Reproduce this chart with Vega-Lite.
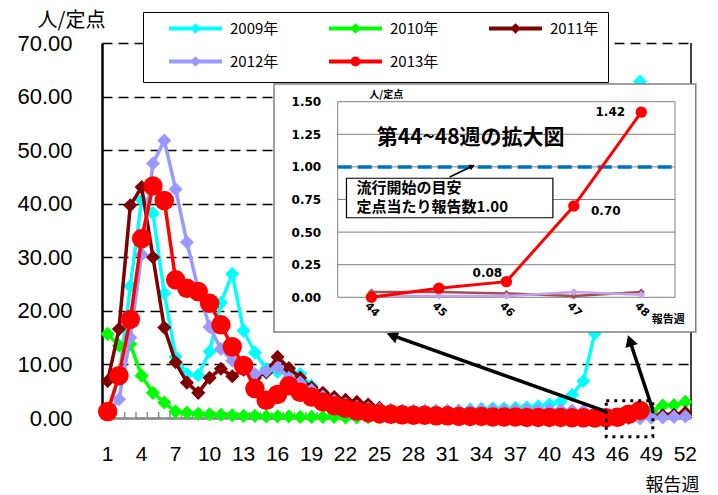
{
"$schema":"https://vega.github.io/schema/vega-lite/v6.json",
"width":589,"height":375,
"autosize":{"type":"none"},
"padding":{"left":102,"top":43,"right":27,"bottom":77},
"background":"#ffffff",
"config":{"view":{"stroke":null},"font":"Liberation Sans","axis":{"labelOverlap":false,"labelBound":false}},
"datasets":{
"y2009":[{"week":1,"value":1.3},{"week":2,"value":7.5},{"week":3,"value":24.6},{"week":4,"value":40.7},{"week":5,"value":38.2},{"week":6,"value":23.3},{"week":7,"value":11.4},{"week":8,"value":8.2},{"week":9,"value":8.0},{"week":10,"value":12.4},{"week":11,"value":21.5},{"week":12,"value":26.9},{"week":13,"value":16.3},{"week":14,"value":12.2},{"week":15,"value":9.2},{"week":16,"value":8.6},{"week":17,"value":9.0},{"week":18,"value":8.2},{"week":19,"value":6.0},{"week":20,"value":4.0},{"week":21,"value":2.8},{"week":22,"value":2.0},{"week":23,"value":1.5},{"week":24,"value":1.2},{"week":25,"value":1.0},{"week":26,"value":0.9},{"week":27,"value":0.9},{"week":28,"value":1.0},{"week":29,"value":1.1},{"week":30,"value":1.2},{"week":31,"value":1.3},{"week":32,"value":1.4},{"week":33,"value":1.6},{"week":34,"value":1.7},{"week":35,"value":1.8},{"week":36,"value":1.8},{"week":37,"value":1.9},{"week":38,"value":2.0},{"week":39,"value":2.2},{"week":40,"value":2.5},{"week":41,"value":3.1},{"week":42,"value":4.3},{"week":43,"value":6.9},{"week":44,"value":15.8},{"week":45,"value":27},{"week":46,"value":40},{"week":47,"value":52},{"week":48,"value":62.8},{"week":49,"value":55},{"week":50,"value":45},{"week":51,"value":33},{"week":52,"value":24}],
"y2010":[{"week":1,"value":15.7},{"week":2,"value":13.5},{"week":3,"value":13.8},{"week":4,"value":7.9},{"week":5,"value":4.7},{"week":6,"value":2.9},{"week":7,"value":1.2},{"week":8,"value":1.0},{"week":9,"value":0.8},{"week":10,"value":0.7},{"week":11,"value":0.6},{"week":12,"value":0.5},{"week":13,"value":0.4},{"week":14,"value":0.4},{"week":15,"value":0.3},{"week":16,"value":0.3},{"week":17,"value":0.3},{"week":18,"value":0.2},{"week":19,"value":0.2},{"week":20,"value":0.2},{"week":21,"value":0.2},{"week":22,"value":0.1},{"week":23,"value":0.1},{"week":24,"value":0.1},{"week":25,"value":0.1},{"week":26,"value":0.1},{"week":27,"value":0.1},{"week":28,"value":0.1},{"week":29,"value":0.1},{"week":30,"value":0.1},{"week":31,"value":0.1},{"week":32,"value":0.1},{"week":33,"value":0.1},{"week":34,"value":0.1},{"week":35,"value":0.1},{"week":36,"value":0.1},{"week":37,"value":0.1},{"week":38,"value":0.1},{"week":39,"value":0.1},{"week":40,"value":0.1},{"week":41,"value":0.1},{"week":42,"value":0.2},{"week":43,"value":0.2},{"week":44,"value":0.2},{"week":45,"value":0.3},{"week":46,"value":0.4},{"week":47,"value":0.6},{"week":48,"value":0.8},{"week":49,"value":1.3},{"week":50,"value":2.3},{"week":51,"value":2.4},{"week":52,"value":3.0}],
"y2011":[{"week":1,"value":6.9},{"week":2,"value":16.6},{"week":3,"value":39.7},{"week":4,"value":43.1},{"week":5,"value":30.0},{"week":6,"value":16.9},{"week":7,"value":10.4},{"week":8,"value":6.6},{"week":9,"value":4.7},{"week":10,"value":7.5},{"week":11,"value":9.2},{"week":12,"value":7.8},{"week":13,"value":9.0},{"week":14,"value":7.5},{"week":15,"value":8.5},{"week":16,"value":11.4},{"week":17,"value":9.3},{"week":18,"value":7.5},{"week":19,"value":5.7},{"week":20,"value":4.7},{"week":21,"value":3.9},{"week":22,"value":3.4},{"week":23,"value":3.0},{"week":24,"value":2.5},{"week":25,"value":1.9},{"week":26,"value":1.5},{"week":27,"value":1.2},{"week":28,"value":0.9},{"week":29,"value":0.7},{"week":30,"value":0.5},{"week":31,"value":0.4},{"week":32,"value":0.3},{"week":33,"value":0.2},{"week":34,"value":0.2},{"week":35,"value":0.1},{"week":36,"value":0.1},{"week":37,"value":0.1},{"week":38,"value":0.1},{"week":39,"value":0.05},{"week":40,"value":0.05},{"week":41,"value":0.05},{"week":42,"value":0.05},{"week":43,"value":0.05},{"week":44,"value":0.04},{"week":45,"value":0.04},{"week":46,"value":0.03},{"week":47,"value":0.01},{"week":48,"value":0.04},{"week":49,"value":0.2},{"week":50,"value":0.5},{"week":51,"value":0.6},{"week":52,"value":1.0}],
"y2012":[{"week":1,"value":1.0},{"week":2,"value":3.5},{"week":3,"value":15.0},{"week":4,"value":30.5},{"week":5,"value":47.5},{"week":6,"value":51.8},{"week":7,"value":42.7},{"week":8,"value":32.8},{"week":9,"value":24.0},{"week":10,"value":17.0},{"week":11,"value":12.9},{"week":12,"value":10.7},{"week":13,"value":9.5},{"week":14,"value":8.2},{"week":15,"value":8.8},{"week":16,"value":9.4},{"week":17,"value":7.5},{"week":18,"value":6.6},{"week":19,"value":5.2},{"week":20,"value":4.0},{"week":21,"value":3.2},{"week":22,"value":2.6},{"week":23,"value":2.1},{"week":24,"value":1.8},{"week":25,"value":1.6},{"week":26,"value":1.5},{"week":27,"value":1.4},{"week":28,"value":1.4},{"week":29,"value":1.4},{"week":30,"value":1.4},{"week":31,"value":1.4},{"week":32,"value":1.4},{"week":33,"value":1.4},{"week":34,"value":1.5},{"week":35,"value":1.5},{"week":36,"value":1.5},{"week":37,"value":1.5},{"week":38,"value":1.5},{"week":39,"value":1.5},{"week":40,"value":1.5},{"week":41,"value":1.5},{"week":42,"value":1.4},{"week":43,"value":1.3},{"week":44,"value":0.01},{"week":45,"value":0.01},{"week":46,"value":0.01},{"week":47,"value":0.04},{"week":48,"value":0.02},{"week":49,"value":0.1},{"week":50,"value":0.1},{"week":51,"value":0.2},{"week":52,"value":0.3}],
"y2013":[{"week":1,"value":1.2},{"week":2,"value":7.9},{"week":3,"value":18.4},{"week":4,"value":33.5},{"week":5,"value":43.3},{"week":6,"value":40.6},{"week":7,"value":25.8},{"week":8,"value":24.2},{"week":9,"value":23.6},{"week":10,"value":21.4},{"week":11,"value":17.4},{"week":12,"value":13.3},{"week":13,"value":9.8},{"week":14,"value":5.5},{"week":15,"value":3.3},{"week":16,"value":4.4},{"week":17,"value":6.0},{"week":18,"value":4.8},{"week":19,"value":3.9},{"week":20,"value":3.0},{"week":21,"value":2.3},{"week":22,"value":1.8},{"week":23,"value":1.3},{"week":24,"value":1.0},{"week":25,"value":0.8},{"week":26,"value":0.7},{"week":27,"value":0.6},{"week":28,"value":0.5},{"week":29,"value":0.5},{"week":30,"value":0.4},{"week":31,"value":0.4},{"week":32,"value":0.3},{"week":33,"value":0.3},{"week":34,"value":0.3},{"week":35,"value":0.2},{"week":36,"value":0.2},{"week":37,"value":0.2},{"week":38,"value":0.1},{"week":39,"value":0.1},{"week":40,"value":0.1},{"week":41,"value":0.1},{"week":42,"value":0.05},{"week":43,"value":0.03},{"week":44,"value":0.0},{"week":45,"value":0.07},{"week":46,"value":0.12,"label":"0.08"},{"week":47,"value":0.70,"label":"0.70"},{"week":48,"value":1.42,"label":"1.42"}]
},
"layer":[
{"layer":[
{"data":{"name":"y2009"},"mark":{"type":"line","strokeWidth":3.5},
 "encoding":{
  "x":{"field":"week","type":"quantitative","scale":{"domain":[0.5,52.5],"nice":false,"zero":false},
   "axis":{"values":[1,4,7,10,13,16,19,22,25,28,31,34,37,40,43,46,49,52],"ticks":false,"labels":false,"domainColor":"#8c8c8c","domainWidth":2.5,"grid":false,
    "title":"報告週","titleFont":"Noto Sans CJK JP","titleFontSize":18,"titleFontWeight":"normal","titleColor":"#000000","titleX":570,"titleY":67,"titleAlign":"center","titleBaseline":"middle"}},
  "y":{"field":"value","type":"quantitative","scale":{"domain":[0,70],"nice":false,"zero":false},
   "axis":{"values":[0,10,20,30,40,50,60,70],"format":".2f","ticks":false,"domainColor":"#000000","domainWidth":2.5,"grid":true,"gridColor":"#000000","gridDash":[10,6],"gridWidth":1.5,
    "labelFont":"Liberation Sans","labelFontSize":22,"labelColor":"#000000","labelPadding":30,
    "title":"人/定点","titleAngle":0,"titleX":-31,"titleY":-23,"titleFont":"Noto Sans CJK JP","titleFontSize":20,"titleFontWeight":"normal","titleAlign":"center","titleBaseline":"middle","titleColor":"#000000"}},
  "color":{"datum":"2009年","type":"nominal","scale":{"domain":["2009年","2010年","2011年","2012年","2013年"],"range":["#00FFFF","#00FF00","#800000","#9999FF","#FF0000"]},
   "legend":{"title":null,"orient":"none","legendX":41,"legendY":-31,"direction":"horizontal","columns":3,
    "symbolType":"M-5.3,0L5.3,0M0,-0.5L0.5,0L0,0.5L-0.5,0Z","symbolSize":100,"symbolStrokeWidth":4,"symbolOffset":36,"labelOffset":27,
    "labelFont":"Noto Sans CJK JP","labelFontSize":15,"labelColor":"#000000","strokeColor":"#000000","fillColor":"#ffffff","padding":9,"rowPadding":11,"columnPadding":33,
    "encode":{"symbols":{"update":{"fill":{"scale":"color","field":"value"},"stroke":{"scale":"color","field":"value"},
     "shape":{"signal":"datum.value === '2013年' ? 'M-5.3,0L5.3,0M0.6,0A0.6,0.6,0,1,1,-0.6,0A0.6,0.6,0,1,1,0.6,0Z' : 'M-5.3,0L5.3,0M0,-0.5L0.5,0L0,0.5L-0.5,0Z'"}}}}}}}},
{"data":{"name":"y2009"},"mark":{"type":"tick","orient":"vertical","size":6,"thickness":1.5,"color":"#8c8c8c","opacity":1,"xOffset":5.66,"yOffset":-3},
 "encoding":{"x":{"field":"week","type":"quantitative"},"y":{"datum":0.00001,"type":"quantitative"}}},
{"data":{"name":"y2009"},"transform":[{"filter":"(datum.week - 1) % 3 == 0"}],"mark":{"type":"text","font":"Liberation Sans","fontSize":21,"color":"#000000","baseline":"middle","align":"center","dy":37},
 "encoding":{"x":{"field":"week","type":"quantitative"},"y":{"datum":0.00001,"type":"quantitative"},"text":{"field":"week","type":"quantitative"}}},
{"data":{"values":[{}]},"mark":{"type":"rule","strokeWidth":1.5,"color":"#000000"},
 "encoding":{"x":{"datum":52.5,"type":"quantitative"},"y":{"datum":0.00001,"type":"quantitative"},"y2":{"datum":70}}},
{"data":{"name":"y2009"},"mark":{"type":"point","shape":"diamond","filled":true,"size":200,"opacity":1},
 "encoding":{"x":{"field":"week","type":"quantitative"},"y":{"field":"value","type":"quantitative"},"color":{"datum":"2009年","type":"nominal"}}},
{"data":{"name":"y2010"},"mark":{"type":"line","strokeWidth":3.5},
 "encoding":{"x":{"field":"week","type":"quantitative"},"y":{"field":"value","type":"quantitative"},"color":{"datum":"2010年","type":"nominal"}}},
{"data":{"name":"y2010"},"mark":{"type":"point","shape":"diamond","filled":true,"size":200,"opacity":1},
 "encoding":{"x":{"field":"week","type":"quantitative"},"y":{"field":"value","type":"quantitative"},"color":{"datum":"2010年","type":"nominal"}}},
{"data":{"name":"y2011"},"mark":{"type":"line","strokeWidth":3.5},
 "encoding":{"x":{"field":"week","type":"quantitative"},"y":{"field":"value","type":"quantitative"},"color":{"datum":"2011年","type":"nominal"}}},
{"data":{"name":"y2011"},"mark":{"type":"point","shape":"diamond","filled":true,"size":200,"opacity":1},
 "encoding":{"x":{"field":"week","type":"quantitative"},"y":{"field":"value","type":"quantitative"},"color":{"datum":"2011年","type":"nominal"}}},
{"data":{"name":"y2012"},"mark":{"type":"line","strokeWidth":3.5},
 "encoding":{"x":{"field":"week","type":"quantitative"},"y":{"field":"value","type":"quantitative"},"color":{"datum":"2012年","type":"nominal"}}},
{"data":{"name":"y2012"},"mark":{"type":"point","shape":"diamond","filled":true,"size":200,"opacity":1},
 "encoding":{"x":{"field":"week","type":"quantitative"},"y":{"field":"value","type":"quantitative"},"color":{"datum":"2012年","type":"nominal"}}},
{"data":{"name":"y2013"},"mark":{"type":"line","strokeWidth":3.5},
 "encoding":{"x":{"field":"week","type":"quantitative"},"y":{"field":"value","type":"quantitative"},"color":{"datum":"2013年","type":"nominal"}}},
{"data":{"name":"y2013"},"mark":{"type":"point","shape":"circle","filled":true,"size":380,"opacity":1},
 "encoding":{"x":{"field":"week","type":"quantitative"},"y":{"field":"value","type":"quantitative"},"color":{"datum":"2013年","type":"nominal"}}},
{"data":{"values":[{}]},"mark":{"type":"rect","fillOpacity":0,"stroke":"#000000","strokeWidth":3,"strokeDash":[3,5]},
 "encoding":{"x":{"datum":45.02,"type":"quantitative"},"x2":{"datum":49.13},"y":{"datum":3.23,"type":"quantitative"},"y2":{"datum":-3.49}}},
{"data":{"values":[{}]},"mark":{"type":"rule","strokeWidth":3.5,"color":"#000000"},
 "encoding":{"x":{"datum":45.02,"type":"quantitative"},"y":{"datum":1.18,"type":"quantitative"},"x2":{"datum":26.11},"y2":{"datum":15.44}}},
{"data":{"values":[{}]},"mark":{"type":"point","shape":"triangle-up","filled":true,"size":170,"color":"#000000","opacity":1,"angle":289.6},
 "encoding":{"x":{"datum":26.11,"type":"quantitative"},"y":{"datum":15.44,"type":"quantitative"}}},
{"data":{"values":[{}]},"mark":{"type":"rule","strokeWidth":3.5,"color":"#000000"},
 "encoding":{"x":{"datum":49.13,"type":"quantitative"},"y":{"datum":1.49,"type":"quantitative"},"x2":{"datum":47.1},"y2":{"datum":14.43}}},
{"data":{"values":[{}]},"mark":{"type":"point","shape":"triangle-up","filled":true,"size":170,"color":"#000000","opacity":1,"angle":341.6},
 "encoding":{"x":{"datum":47.1,"type":"quantitative"},"y":{"datum":14.43,"type":"quantitative"}}}
]},
{"layer":[
{"data":{"values":[{}]},"mark":{"type":"rect","fill":"#ffffff","stroke":"#7f7f7f","strokeWidth":1.5},
 "encoding":{
  "x":{"datum":42.556,"type":"quantitative","scale":{"domain":[43.5,48.5],"range":[235.7,573],"nice":false,"zero":false},
   "axis":{"orient":"bottom","offset":-120.7,"values":[44,45,46,47,48],"format":"d","domain":false,"ticks":false,"grid":false,"labelAngle":45,"labelAlign":"center","labelBaseline":"middle","labelPadding":12,
    "labelFont":"DejaVu Sans","labelFontWeight":"bold","labelFontSize":11,"labelColor":"#000000","labelFlush":false,"labelOverlap":false,"title":null,"zindex":2}},
  "x2":{"datum":48.808},
  "y":{"datum":1.636,"type":"quantitative","scale":{"domain":[0,1.5],"range":[254.3,58.7],"nice":false,"zero":false},
   "axis":{"orient":"left","offset":-235.7,"values":[0,0.25,0.5,0.75,1,1.25,1.5],"format":".2f","domain":false,"ticks":false,"grid":false,
    "labelFont":"DejaVu Sans","labelFontWeight":"bold","labelFontSize":12,"labelColor":"#000000","labelPadding":17,"labelOverlap":false,"labelFlush":false,"title":null,"zindex":2}},
  "y2":{"datum":-0.266}}},
{"data":{"values":[{"g":0.25},{"g":0.5},{"g":0.75},{"g":1.0},{"g":1.25}]},"mark":{"type":"rule","color":"#7f7f7f","strokeWidth":1},
 "encoding":{"y":{"field":"g","type":"quantitative"},"x":{"datum":43.5,"type":"quantitative"},"x2":{"datum":48.5}}},
{"data":{"values":[{}]},"mark":{"type":"rect","fillOpacity":0,"stroke":"#7f7f7f","strokeWidth":1},
 "encoding":{"x":{"datum":43.5,"type":"quantitative"},"x2":{"datum":48.5},"y":{"datum":1.5,"type":"quantitative"},"y2":{"datum":0.00001}}},
{"data":{"values":[{}]},"mark":{"type":"rule","color":"#0070C0","strokeWidth":3.5,"strokeDash":[14,6]},
 "encoding":{"y":{"datum":1.0,"type":"quantitative"},"x":{"datum":43.5,"type":"quantitative"},"x2":{"datum":48.5}}},
{"data":{"values":[{}]},"mark":{"type":"rect","fill":"#ffffff","stroke":"#000000","strokeWidth":1.2},
 "encoding":{"x":{"datum":43.63,"type":"quantitative"},"x2":{"datum":46.69},"y":{"datum":0.913,"type":"quantitative"},"y2":{"datum":0.61}}},
{"data":{"values":[{}]},"mark":{"type":"text","text":["流行開始の目安","定点当たり報告数1.00"],"align":"left","baseline":"middle","font":"Noto Sans CJK JP","fontSize":15,"fontWeight":"bold","lineHeight":19,"color":"#000000"},
 "encoding":{"x":{"datum":43.78,"type":"quantitative"},"y":{"datum":0.838,"type":"quantitative"}}},
{"data":{"values":[{}]},"mark":{"type":"rule","strokeWidth":1.5,"color":"#000000"},
 "encoding":{"x":{"datum":45.16,"type":"quantitative"},"y":{"datum":0.9225,"type":"quantitative"},"x2":{"datum":45.494},"y2":{"datum":1.0046}}},
{"data":{"values":[{}]},"mark":{"type":"point","shape":"triangle-up","filled":true,"size":40,"color":"#000000","opacity":1,"angle":64.4},
 "encoding":{"x":{"datum":45.494,"type":"quantitative"},"y":{"datum":1.0046,"type":"quantitative"}}},
{"data":{"values":[{}]},"mark":{"type":"text","text":"第44~48週の拡大図","align":"center","baseline":"middle","font":"Noto Sans CJK JP","fontSize":21,"fontWeight":"bold","color":"#000000"},
 "encoding":{"x":{"datum":45.47,"type":"quantitative"},"y":{"datum":1.222,"type":"quantitative"}}},
{"data":{"name":"y2011"},"transform":[{"filter":"datum.week >= 44 && datum.week <= 48"}],"mark":{"type":"line","strokeWidth":2.5,"color":"#A05050"},
 "encoding":{"x":{"field":"week","type":"quantitative"},"y":{"field":"value","type":"quantitative"}}},
{"data":{"name":"y2011"},"transform":[{"filter":"datum.week >= 44 && datum.week <= 48"}],"mark":{"type":"point","shape":"diamond","filled":true,"size":50,"opacity":1,"color":"#A05050"},
 "encoding":{"x":{"field":"week","type":"quantitative"},"y":{"field":"value","type":"quantitative"}}},
{"data":{"name":"y2012"},"transform":[{"filter":"datum.week >= 44 && datum.week <= 48"}],"mark":{"type":"line","strokeWidth":2.5,"color":"#C8A0F0"},
 "encoding":{"x":{"field":"week","type":"quantitative"},"y":{"field":"value","type":"quantitative"}}},
{"data":{"name":"y2012"},"transform":[{"filter":"datum.week >= 44 && datum.week <= 48"}],"mark":{"type":"point","shape":"diamond","filled":true,"size":60,"opacity":1,"color":"#C8A0F0"},
 "encoding":{"x":{"field":"week","type":"quantitative"},"y":{"field":"value","type":"quantitative"}}},
{"data":{"name":"y2013"},"transform":[{"filter":"datum.week >= 44"}],"mark":{"type":"line","strokeWidth":3,"color":"#FF0000"},
 "encoding":{"x":{"field":"week","type":"quantitative"},"y":{"field":"value","type":"quantitative"}}},
{"data":{"name":"y2013"},"transform":[{"filter":"datum.week >= 44"}],"mark":{"type":"point","shape":"circle","filled":true,"size":130,"opacity":1,"color":"#FF0000"},
 "encoding":{"x":{"field":"week","type":"quantitative"},"y":{"field":"value","type":"quantitative"}}},
{"data":{"name":"y2013"},"transform":[{"filter":"datum.week == 46"}],"mark":{"type":"text","font":"DejaVu Sans","fontWeight":"bold","fontSize":12,"dx":-19,"dy":-9,"color":"#000000"},
 "encoding":{"x":{"field":"week","type":"quantitative"},"y":{"field":"value","type":"quantitative"},"text":{"field":"label"}}},
{"data":{"name":"y2013"},"transform":[{"filter":"datum.week == 47"}],"mark":{"type":"text","font":"DejaVu Sans","fontWeight":"bold","fontSize":12,"dx":32,"dy":5,"color":"#000000"},
 "encoding":{"x":{"field":"week","type":"quantitative"},"y":{"field":"value","type":"quantitative"},"text":{"field":"label"}}},
{"data":{"name":"y2013"},"transform":[{"filter":"datum.week == 48"}],"mark":{"type":"text","font":"DejaVu Sans","fontWeight":"bold","fontSize":12,"dx":-31,"dy":0,"color":"#000000"},
 "encoding":{"x":{"field":"week","type":"quantitative"},"y":{"field":"value","type":"quantitative"},"text":{"field":"label"}}},
{"data":{"values":[{}]},"mark":{"type":"text","text":"人/定点","align":"center","baseline":"middle","font":"Noto Sans CJK JP","fontSize":10,"fontWeight":"bold","color":"#000000"},
 "encoding":{"x":{"datum":44.22,"type":"quantitative"},"y":{"datum":1.551,"type":"quantitative"}}},
{"data":{"values":[{}]},"mark":{"type":"text","text":"報告週","align":"center","baseline":"middle","font":"Noto Sans CJK JP","fontSize":11,"fontWeight":"bold","color":"#000000"},
 "encoding":{"x":{"datum":48.4,"type":"quantitative"},"y":{"datum":-0.174,"type":"quantitative"}}}
]}
],
"resolve":{"scale":{"x":"independent","y":"independent"},"axis":{"x":"independent","y":"independent"}}
}
